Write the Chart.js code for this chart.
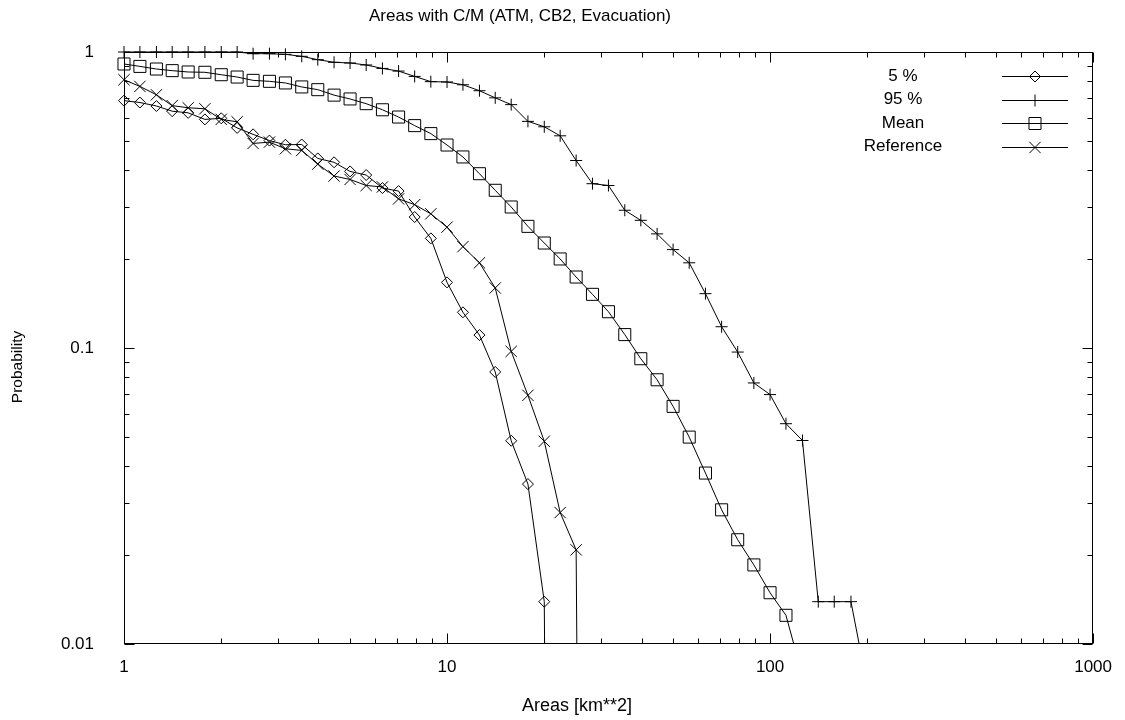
<!DOCTYPE html>
<html>
<head>
<meta charset="utf-8">
<title>Areas with C/M</title>
<script src="https://cdn.jsdelivr.net/npm/chart.js@4.4.1/dist/chart.umd.min.js"></script>
<style>
  html, body { margin: 0; padding: 0; background: #fff; }
  canvas { display: block; }
</style>
</head>
<body>
<canvas id="chart" width="1125" height="720"></canvas>
<script>
/* ── Data ────────────────────────────────────── */
const TITLE   = 'Areas with C/M (ATM, CB2, Evacuation)';
const X_TITLE = 'Areas [km**2]';
const Y_TITLE = 'Probability';

const xTicks = [1, 10, 100, 1000];
const yTicks = [0.01, 0.1, 1];

const areas = [
  1, 1.12, 1.26, 1.41, 1.58, 1.78, 2, 2.24, 2.51, 2.82,
  3.16, 3.55, 3.98, 4.47, 5.01, 5.62, 6.31, 7.08, 7.94, 8.91,
  10, 11.2, 12.6, 14.1, 15.8, 17.8, 20, 22.4, 25.1, 28.2,
  31.6, 35.5, 39.8, 44.7, 50.1, 56.2, 63.1, 70.8, 79.4, 89.1,
  100, 112, 126, 141, 158, 178, 200,
];

const p5 = [
  0.685, 0.675, 0.657, 0.631, 0.623, 0.592, 0.597, 0.554, 0.527, 0.502,
  0.486, 0.487, 0.437, 0.424, 0.395, 0.384, 0.347, 0.339, 0.277, 0.2346,
  0.1666, 0.132, 0.1106, 0.083, 0.0486, 0.0347, 0.0139, 1e-9,
];

const p95 = [
  1, 1, 1, 1, 1, 1, 1, 1, 0.987, 0.987,
  0.982, 0.967, 0.942, 0.923, 0.918, 0.904, 0.88, 0.862, 0.827, 0.794,
  0.792, 0.775, 0.74, 0.70, 0.664, 0.583, 0.559, 0.521, 0.43, 0.359,
  0.354, 0.292, 0.27, 0.243, 0.215, 0.194, 0.1526, 0.118, 0.0969, 0.0762,
  0.0696, 0.0555, 0.0487, 0.0139, 0.0139, 0.0139, 0.0072,
];

const mean = [
  0.911, 0.894, 0.876, 0.865, 0.856, 0.854, 0.838, 0.823, 0.802, 0.796,
  0.786, 0.762, 0.746, 0.715, 0.694, 0.669, 0.638, 0.603, 0.564, 0.53,
  0.485, 0.442, 0.388, 0.341, 0.2995, 0.2576, 0.2263, 0.1999, 0.1737, 0.1518,
  0.1326, 0.111, 0.092, 0.0781, 0.0635, 0.05, 0.0378, 0.0284, 0.0225, 0.0185,
  0.0149, 0.0125, 0.0078,
];

const reference = [
  0.806, 0.765, 0.717, 0.659, 0.648, 0.643, 0.592, 0.581, 0.491, 0.496,
  0.471, 0.465, 0.418, 0.381, 0.371, 0.354, 0.35, 0.319, 0.305, 0.284,
  0.256, 0.22, 0.194, 0.1595, 0.0974, 0.0692, 0.0484, 0.0278, 0.0208, 1e-9,
];

/* ── Look ─────────────────────────────────────── */
const FONT   = 'Liberation Sans, Arial, Helvetica, sans-serif';
const BLACK  = '#000';
const HOLLOW = 'rgba(0,0,0,0)';

function pairs(values) {
  return values.map((y, i) => ({ x: areas[i], y }));
}

function series(label, values, style, radius) {
  return {
    label,
    data: pairs(values),
    borderColor: BLACK,
    borderWidth: 1,
    tension: 0,
    pointStyle: style,
    pointRadius: radius,
    pointHoverRadius: radius,
    pointBorderColor: BLACK,
    pointBorderWidth: 1,
    pointBackgroundColor: HOLLOW,
    clip: { left: 12, top: 12, right: 0, bottom: 0 },
  };
}

const datasets = [
  series('5 %',       p5,        'rectRot',  5.5),
  series('95 %',      p95,       'cross',    6),
  series('Mean',      mean,      'rect',     8.5),
  series('Reference', reference, 'crossRot', 8),
];

/* ── Frame, inward ticks, titles, key ─────────── */
function minorsOf(decades) {
  const out = [];
  decades.slice(0, -1).forEach(d => {
    for (let m = 2; m <= 9; m++) out.push(+(d * m).toPrecision(3));
  });
  return out;
}

const framePlugin = {
  id: 'gnuplotFrame',
  afterDatasetsDraw(chart) {
    const { ctx, chartArea: a, scales } = chart;
    const xs = scales.x, ys = scales.y;
    const L = Math.round(a.left) + 0.5, R = Math.round(a.right) - 0.5;
    const T = Math.round(a.top) + 0.5,  B = Math.round(a.bottom) - 0.5;

    ctx.save();
    ctx.strokeStyle = BLACK;
    ctx.lineWidth = 1;
    ctx.strokeRect(L, T, R - L, B - T);

    ctx.beginPath();
    const xt = (v, len) => {
      const p = Math.round(xs.getPixelForValue(v)) + 0.5;
      ctx.moveTo(p, B); ctx.lineTo(p, B - len);
      ctx.moveTo(p, T); ctx.lineTo(p, T + len);
    };
    const yt = (v, len) => {
      const p = Math.round(ys.getPixelForValue(v)) + 0.5;
      ctx.moveTo(L, p); ctx.lineTo(L + len, p);
      ctx.moveTo(R, p); ctx.lineTo(R - len, p);
    };
    xTicks.forEach(v => xt(v, 10));
    minorsOf(xTicks).forEach(v => xt(v, 5));
    yTicks.forEach(v => yt(v, 10));
    minorsOf(yTicks).forEach(v => yt(v, 5));
    ctx.stroke();

    // title + axis titles
    ctx.fillStyle = BLACK;
    ctx.textAlign = 'center';
    ctx.textBaseline = 'middle';
    ctx.font = '17px ' + FONT;
    ctx.fillText(TITLE, 520, 16);
    ctx.font = '18px ' + FONT;
    ctx.fillText(X_TITLE, 577, 706);
    ctx.save();
    ctx.translate(18, 367);
    ctx.rotate(-Math.PI / 2);
    ctx.font = '15.5px ' + FONT;
    ctx.fillText(Y_TITLE, 0, 0);
    ctx.restore();

    // key, top right inside the plot
    ctx.font = '17px ' + FONT;
    chart.data.datasets.forEach((ds, i) => {
      const y = 76 + i * 23.5;
      ctx.fillStyle = BLACK;
      ctx.fillText(ds.label, 903, y);
      const ly = Math.round(y) + 0.5;
      ctx.beginPath();
      ctx.moveTo(1002, ly); ctx.lineTo(1068, ly);
      ctx.stroke();
      ctx.fillStyle = HOLLOW;
      Chart.helpers.drawPoint(ctx, {
        pointStyle: ds.pointStyle,
        radius: ds.pointRadius,
        borderWidth: 1,
      }, 1035, ly);
    });
    ctx.restore();
  },
};

/* ── Chart ────────────────────────────────────── */
new Chart(document.getElementById('chart'), {
  type: 'line',
  data: { datasets },
  options: {
    responsive: false,
    animation: false,
    events: [],
    layout: { padding: { top: 52, right: 30, bottom: 0, left: 0 } },
    plugins: {
      legend: { display: false },
      tooltip: { enabled: false },
    },
    scales: {
      x: {
        type: 'logarithmic',
        min: 1, max: 1000,
        grid: { display: false, drawTicks: false },
        border: { display: false },
        afterBuildTicks: s => { s.ticks = xTicks.map(value => ({ value })); },
        afterFit: s => { s.height = 76; },
        ticks: {
          color: BLACK, padding: 13, maxRotation: 0, autoSkip: false,
          font: { family: FONT, size: 17 },
          callback: v => String(v),
        },
      },
      y: {
        type: 'logarithmic',
        min: 0.01, max: 1,
        grid: { display: false, drawTicks: false },
        border: { display: false },
        afterBuildTicks: s => { s.ticks = yTicks.map(value => ({ value })); },
        afterFit: s => { s.width = 124; },
        ticks: {
          color: BLACK, padding: 30, autoSkip: false,
          font: { family: FONT, size: 17 },
          callback: v => String(v),
        },
      },
    },
  },
  plugins: [framePlugin],
});
</script>
</body>
</html>
